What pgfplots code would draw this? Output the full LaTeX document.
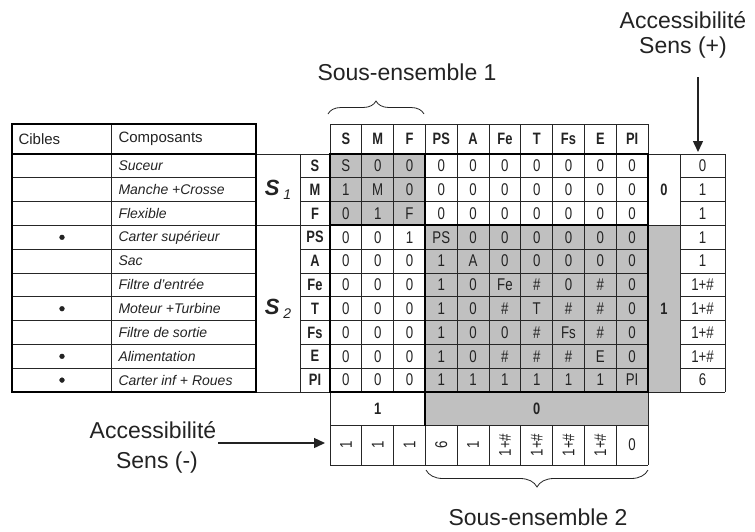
\documentclass[border=0pt]{standalone}
\usepackage{pgfplots}
\pgfplotsset{compat=1.18}
\usepackage{pgfplotstable}
\usepackage{fontspec}
\setmainfont{Liberation Sans}
\newfontfamily\narrowfont[FakeStretch=0.78]{Liberation Sans}
\usetikzlibrary{arrows.meta,decorations.pathreplacing}
\definecolor{cellgray}{RGB}{192,192,192}
\definecolor{txt}{RGB}{35,35,35}
\newcommand\mtx{\narrowfont\fontsize{17}{19}\selectfont}
\newcommand\mtxb{\narrowfont\bfseries\fontsize{16.5}{19}\selectfont}
\newcommand\lab{\fontsize{14}{16}\selectfont}
\newcommand\bigtxt{\fontsize{23}{26}\selectfont}
\pgfplotsset{thinrule/.style={draw=black!85, line width=0.8pt, mark=none},
             thickrule/.style={draw=black, line width=1.9pt, mark=none, line cap=rect}}
\newcommand\hl[4][thinrule]{\addplot[#1] coordinates {(#2,#4) (#3,#4)};}
\newcommand\vl[4][thinrule]{\addplot[#1] coordinates {(#2,#3) (#2,#4)};}

% matrix of relations (rows S..PI, columns S..PI)
\pgfplotstableread{
r c0 c1 c2 c3 c4 c5 c6 c7 c8 c9
0 S  0  0  0  0  0  0  0  0  0
1 1  M  0  0  0  0  0  0  0  0
2 0  1  F  0  0  0  0  0  0  0
3 0  0  1  PS 0  0  0  0  0  0
4 0  0  0  1  A  0  0  0  0  0
5 0  0  0  1  0  Fe \# 0  \# 0
6 0  0  0  1  0  \# T  \# \# 0
7 0  0  0  1  0  0  \# Fs \# 0
8 0  0  0  1  0  \# \# \# E  0
9 0  0  0  1  1  1  1  1  1  PI
}\matrixdata
% accessibility (+) per row
\pgfplotstableread{
r v
0 0
1 1
2 1
3 1
4 1
5 1+\#
6 1+\#
7 1+\#
8 1+\#
9 6
}\plusdata
% accessibility (-) per column (rotated ones)
\pgfplotstableread{
c v
0 1
1 1
2 1
3 6
4 1
5 1+\#
6 1+\#
7 1+\#
8 1+\#
}\minusdata

\begin{document}
\begin{tikzpicture}
\begin{axis}[
  width=755pt, height=531pt, scale only axis,
  xmin=0, xmax=755, ymin=0, ymax=531, y dir=reverse,
  hide axis, clip=false, enlargelimits=false,
]
\addplot[draw=none, mark=none] coordinates {(0,0) (755,531)};
% ---------- gray fills
\addplot[fill=cellgray, draw=none, mark=none] coordinates {(330,154) (425.4,154) (425.4,225.4) (330,225.4)};
\addplot[fill=cellgray, draw=none, mark=none] coordinates {(425.4,225.4) (648,225.4) (648,392) (425.4,392)};
\addplot[fill=cellgray, draw=none, mark=none] coordinates {(648,225.4) (680,225.4) (680,392) (648,392)};
\addplot[fill=cellgray, draw=none, mark=none] coordinates {(425.4,392) (648,392) (648,425) (425.4,425)};
% ---------- thin rules
\pgfplotsinvokeforeach{177.8,201.6,225.4,249.2,273,296.8,320.6,344.4,368.2}{
  \hl{12}{256}{#1}
  \hl{300}{648}{#1}
  \hl{680}{725}{#1}
}
\hl{680}{725}{154}
\hl{680}{725}{392}
\hl{648}{680}{154}
\hl{648}{680}{225.4}
\hl{648}{680}{392}
\hl{256}{300}{154}
\hl{256}{300}{225.4}
\hl{256}{300}{392}
\hl{300}{330}{154}
\hl{300}{330}{392}
\hl{330}{648}{124}
\hl{330}{648}{425}
\hl{330}{648}{465}
\vl{111}{124}{392}
\vl{300}{154}{392}
\vl{680}{154}{392}
\vl{725}{154}{392}
\vl{330}{124}{154}
\vl{648}{124}{154}
\vl{330}{392}{465}
\vl{648}{392}{465}
\pgfplotsinvokeforeach{361.8,393.6,425.4,457.2,489,520.8,552.6,584.4,616.2}{
  \vl{#1}{124}{392}
  \vl{#1}{425}{465}
}
% ---------- thick rules
\addplot[thickrule] coordinates {(12,124) (256,124) (256,392) (12,392) (12,124)};
\hl[thickrule]{12}{256}{154}
\addplot[thickrule] coordinates {(330,154) (648,154) (648,392) (330,392) (330,154)};
\hl[thickrule]{330}{648}{225.4}
\vl[thickrule]{425.4}{154}{425}
% ---------- matrix values
\pgfplotsinvokeforeach{0,1,2,3,4,5,6,7,8,9}{
  \addplot[draw=none, mark=none, nodes near coords, point meta=explicit symbolic,
    every node near coord/.append style={anchor=center, inner sep=0pt, font=\mtx, text=txt}]
    table[x expr={330+31.8*(#1+0.5)}, y expr={154+23.8*(\thisrow{r}+0.5)}, meta=c#1] {\matrixdata};
}
% accessibility (+)
\addplot[draw=none, mark=none, nodes near coords, point meta=explicit symbolic,
  every node near coord/.append style={anchor=center, inner sep=0pt, font=\mtx, text=txt}]
  table[x expr={702.5}, y expr={154+23.8*(\thisrow{r}+0.5)}, meta=v] {\plusdata};
% accessibility (-)
\addplot[draw=none, mark=none, nodes near coords, point meta=explicit symbolic,
  every node near coord/.append style={anchor=center, inner sep=0pt, font=\mtx, text=txt, rotate=90}]
  table[x expr={330+31.8*(\thisrow{c}+0.5)}, y expr={445}, meta=v] {\minusdata};
\addplot[draw=none, mark=none, nodes near coords, point meta=explicit symbolic,
  every node near coord/.append style={anchor=center, inner sep=0pt, font=\mtx, text=txt}]
  coordinates {(632.1,445) [0]};
% block values (bold)
\addplot[draw=none, mark=none, nodes near coords, point meta=explicit symbolic,
  every node near coord/.append style={anchor=center, inner sep=0pt, font=\mtxb, text=txt}]
  coordinates {(664,189.7) [0] (664,308.7) [1] (377.7,408.5) [1] (536.7,408.5) [0]};
% column headers
\addplot[draw=none, mark=none, nodes near coords, point meta=explicit symbolic,
  every node near coord/.append style={anchor=center, inner sep=0pt, font=\mtxb, text=txt}]
  coordinates {(345.9,139) [S] (377.7,139) [M] (409.5,139) [F] (441.3,139) [PS] (473.1,139) [A]
               (504.9,139) [Fe] (536.7,139) [T] (568.5,139) [Fs] (600.3,139) [E] (632.1,139) [PI]};
% row headers
\addplot[draw=none, mark=none, nodes near coords, point meta=explicit symbolic,
  every node near coord/.append style={anchor=center, inner sep=0pt, font=\mtxb, text=txt}]
  coordinates {(315,165.9) [S] (315,189.7) [M] (315,213.5) [F] (315,237.3) [PS] (315,261.1) [A]
               (315,284.9) [Fe] (315,308.7) [T] (315,332.5) [Fs] (315,356.3) [E] (315,380.1) [PI]};
% targets (bullets)
\addplot[only marks, mark=*, mark size=2.4pt, color=txt] coordinates {(62,237.3) (62,308.7) (62,356.3) (62,380.1)};
% ---------- left table text
\node[anchor=west, font=\fontsize{15}{17}\selectfont, text=txt] at (axis cs:15,139) {Cibles};
\node[anchor=west, font=\fontsize{15}{17}\selectfont, text=txt] at (axis cs:115,139) {Composants};
\node[anchor=west, font=\lab\itshape, text=txt] at (axis cs:115,165.9) {Suceur};
\node[anchor=west, font=\lab\itshape, text=txt] at (axis cs:115,189.7) {Manche +Crosse};
\node[anchor=west, font=\lab\itshape, text=txt] at (axis cs:115,213.5) {Flexible};
\node[anchor=west, font=\lab\itshape, text=txt] at (axis cs:115,237.3) {Carter supérieur};
\node[anchor=west, font=\lab\itshape, text=txt] at (axis cs:115,261.1) {Sac};
\node[anchor=west, font=\lab\itshape, text=txt] at (axis cs:115,284.9) {Filtre d'entrée};
\node[anchor=west, font=\lab\itshape, text=txt] at (axis cs:115,308.7) {Moteur +Turbine};
\node[anchor=west, font=\lab\itshape, text=txt] at (axis cs:115,332.5) {Filtre de sortie};
\node[anchor=west, font=\lab\itshape, text=txt] at (axis cs:115,356.3) {Alimentation};
\node[anchor=west, font=\lab\itshape, text=txt] at (axis cs:115,380.1) {Carter inf + Roues};
\node[font=\fontsize{22}{22}\selectfont, text=txt] at (axis cs:278,190)
  {\textbf{\textit{S}}\,\raisebox{-0.3ex}{\fontsize{14}{14}\selectfont\textit{1}}};
\node[font=\fontsize{22}{22}\selectfont, text=txt] at (axis cs:278,308.7)
  {\textbf{\textit{S}}\,\raisebox{-0.3ex}{\fontsize{14}{14}\selectfont\textit{2}}};
% ---------- annotations
\node[font=\bigtxt, text=txt] at (axis cs:407,72) {Sous-ensemble 1};
\node[font=\bigtxt, text=txt] at (axis cs:538,517) {Sous-ensemble 2};
\node[font=\bigtxt, text=txt] at (axis cs:683,20) {Accessibilité};
\node[font=\bigtxt, text=txt] at (axis cs:683,48) {Sens (+)};
\node[font=\bigtxt, text=txt] at (axis cs:153,430) {Accessibilité};
\node[font=\bigtxt, text=txt] at (axis cs:157,463) {Sens (-)};
\addplot[-{Triangle[width=10pt,length=11pt]}, line width=1.4pt, color=txt] coordinates {(698,77) (698,152)};
\addplot[-{Triangle[width=10pt,length=11pt]}, line width=1.4pt, color=txt] coordinates {(218,443) (325,443)};
\draw[decorate, decoration={brace, amplitude=13pt}, line width=0.8pt, color=txt]
  (axis cs:328,114) -- (axis cs:424,114);
\draw[decorate, decoration={brace, amplitude=17pt}, line width=0.8pt, color=txt]
  (axis cs:648,470) -- (axis cs:426,470);
\end{axis}
\end{tikzpicture}
\end{document}
